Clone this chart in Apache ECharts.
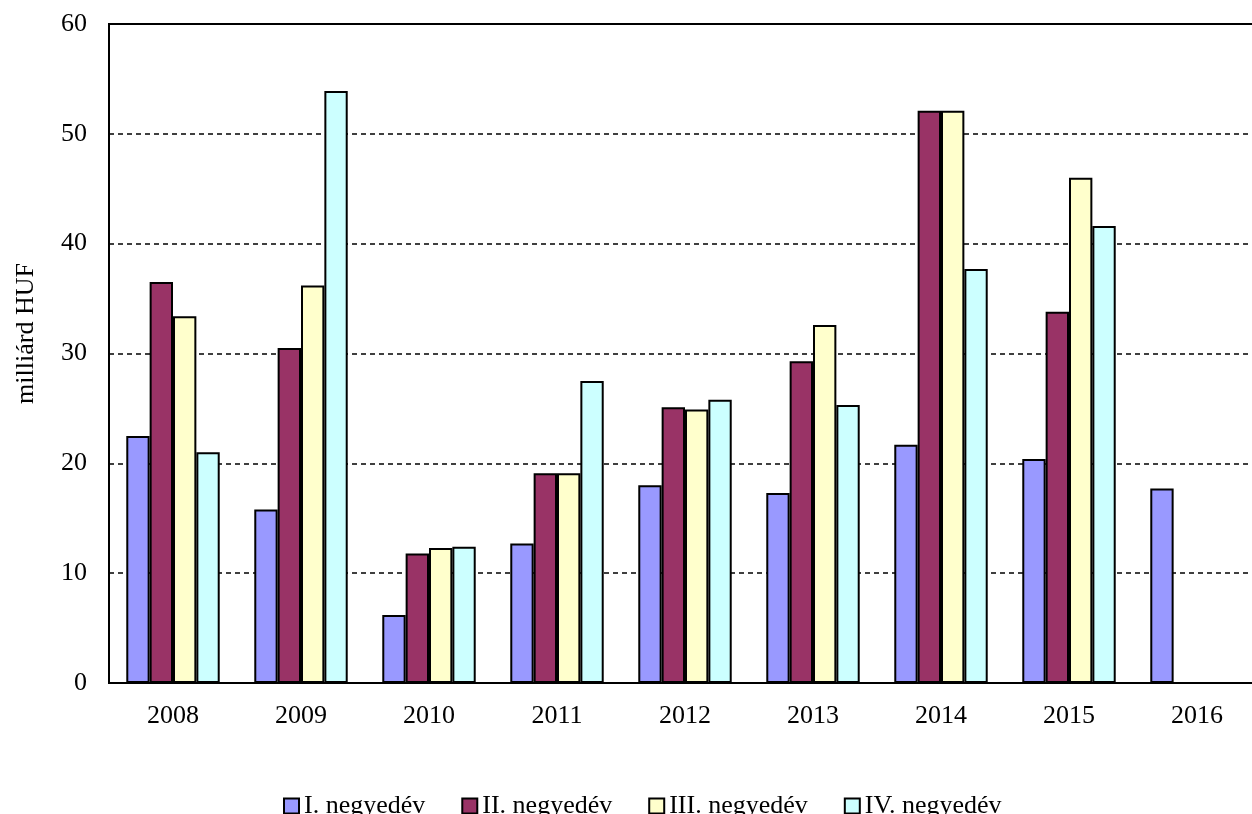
<!DOCTYPE html>
<html>
<head>
<meta charset="utf-8">
<script src="https://cdn.jsdelivr.net/npm/echarts@6/dist/echarts.min.js"></script>
<style>
html, body { margin: 0; padding: 0; background: #fff; }
#main { width: 1252px; height: 814px; }
</style>
</head>
<body>
<div id="main"></div>
<script>
// évek (kategóriák)
var years = ['2008', '2009', '2010', '2011', '2012', '2013', '2014', '2015', '2016'];
var seriesNames = ['I. negyedév', 'II. negyedév', 'III. negyedév', 'IV. negyedév'];

// negyedéves értékek, milliárd HUF
var q1 = [22.5, 15.8, 6.2, 12.7, 18.0, 17.3, 21.7, 20.4, 17.7];
var q2 = [36.5, 30.5, 11.8, 19.1, 25.1, 29.3, 52.1, 33.8, null];
var q3 = [33.4, 36.2, 12.3, 19.1, 24.9, 32.6, 52.1, 46.0, null];
var q4 = [21.0, 53.9, 12.4, 27.5, 25.8, 25.3, 37.7, 41.6, null];

var yTicks = [0, 10, 20, 30, 40, 50, 60];
var colors = ['#9999FF', '#993366', '#FFFFCC', '#CCFFFF'];

var font = 'Liberation Serif';
var myChart = echarts.init(document.getElementById('main'));

function bar(name, data, color) {
	return {
		name: name,
		type: 'bar',
		data: data,
		barGap: '0%',
		barCategoryGap: '27%',
		itemStyle: { color: color, borderColor: '#000', borderWidth: 2 }
	};
}

var option = {
	animation: false,
	backgroundColor: '#fff',
	textStyle: { fontFamily: font, color: '#000' },
	// a rajzterület jobb széle kilóg a képből
	grid: {
		left: 109, width: 1152, top: 24, bottom: 131,
		outerBoundsMode: 'none',
		show: true, borderColor: '#000', borderWidth: 2, backgroundColor: 'transparent'
	},
	legend: {
		data: seriesNames,
		top: 788,
		left: 278,
		itemGap: 36,
		itemWidth: 15,
		itemHeight: 15,
		icon: 'rect',
		textStyle: { fontFamily: font, fontSize: 26, color: '#000' }
	},
	xAxis: {
		type: 'category',
		data: years,
		axisLine: { lineStyle: { color: '#000', width: 2 } },
		axisTick: { show: false },
		axisLabel: { fontFamily: font, fontSize: 26, color: '#000', margin: 20 }
	},
	yAxis: {
		type: 'value',
		min: yTicks[0],
		max: yTicks[yTicks.length - 1],
		interval: 10,
		name: 'milliárd HUF',
		nameLocation: 'middle',
		nameRotate: 90,
		nameGap: 70,
		nameTextStyle: { fontFamily: font, fontSize: 26, color: '#000', padding: [0, 0, 0, 40] },
		axisLine: { show: true, lineStyle: { color: '#000', width: 2 } },
		axisTick: { show: false },
		axisLabel: { fontFamily: font, fontSize: 26, color: '#000', margin: 22 },
		splitLine: { lineStyle: { color: '#000', width: 1.5, type: [5, 4] } }
	},
	series: [
		bar(seriesNames[0], q1, colors[0]),
		bar(seriesNames[1], q2, colors[1]),
		bar(seriesNames[2], q3, colors[2]),
		bar(seriesNames[3], q4, colors[3])
	]
};

myChart.setOption(option);
</script>
</body>
</html>
